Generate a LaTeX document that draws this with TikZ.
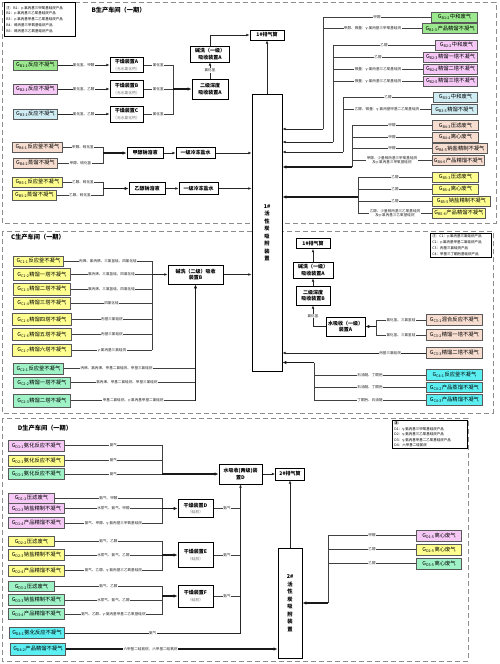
\documentclass[tikz,border=0pt]{standalone}
\usepackage{fontspec}
\setmainfont{Noto Sans CJK SC}
\usetikzlibrary{arrows.meta,calc}
\newcommand\fsrc{\fontsize{5.3}{6}\selectfont}
\newcommand\fdev{\bfseries\fontsize{5}{6.2}\selectfont}
\newcommand\fsm{\mdseries\fontsize{3.8}{4.6}\selectfont\color{black!55}}
\newcommand\flab{\fontsize{3.6}{4.3}\selectfont}
\newcommand\flgd{\fontsize{3.5}{5.8}\selectfont}
\newcommand\fttl{\bfseries\fontsize{6.2}{7.5}\selectfont}
\newcommand\fvert{\bfseries\fontsize{5.3}{7.5}\selectfont}
\definecolor{cgreen}{HTML}{9BE88E}
\definecolor{cpink}{HTML}{F6C8F6}
\definecolor{cblue}{HTML}{CFECF3}
\definecolor{cpeach}{HTML}{F7DDD0}
\definecolor{cyellow}{HTML}{FFFF8F}
\definecolor{cmint}{HTML}{9EF2C6}
\definecolor{ccyan}{HTML}{5CEFF2}
\begin{document}
\begin{tikzpicture}[x=1pt,y=-1pt,
  src/.style={draw=black!65, line width=0.9pt, minimum height=10, inner sep=0.6pt, font=\fsrc},
  dev/.style={draw=black, line width=1pt, fill=white, align=center, inner sep=0.5pt, font=\fdev},
  lab/.style={fill=white, inner sep=0.4pt, font=\flab, text=black!85, align=center},
  ln/.style={draw=black!75, line width=0.75pt},
  arr/.style={draw=black!85, line width=0.8pt, -{Latex[length=3.2pt,width=2.8pt]}},
  tarr/.style={draw=black!90, line width=1.4pt, -{Latex[length=3.8pt,width=3.4pt]}},
  frame/.style={draw=black!45, line width=1pt, dash pattern=on 5pt off 3pt},
  lgd/.style={draw=black, line width=0.9pt, fill=white, align=left, anchor=north west, inner xsep=2pt, inner ysep=1.5pt, font=\flgd},
  ttl/.style={font=\fttl, inner sep=0},
]
\useasboundingbox (0,0) rectangle (500,664);
\fill[white] (0,0) rectangle (500,664);
% frames
\draw[frame] (2,2) rectangle (496,223);
\draw[frame] (2,231) rectangle (493,413);
\draw[frame] (2,418) rectangle (468,661);
% legends and titles
\node[lgd,text width=67,minimum height=34] (lgB) at (4,2) {注：B1：γ-氯丙基三甲氧基硅烷产品\\B2：γ-氯丙基三乙氧基硅烷产品\\B3：γ-氯丙基甲基二乙氧基硅烷产品\\B4：巯丙基三甲氧基硅烷产品\\B5：巯丙基三乙氧基硅烷产品};
\node[lgd,text width=57] (lgC) at (430,233) {注：C1：γ-氯丙基三氯硅烷产品\\C2：γ-氯丙基甲基二氯硅烷产品\\C3：丙基三氯硅烷产品\\C4：甲基三丁酮肟基硅烷产品};
\node[lgd,text width=71,font=\fontsize{3.5}{5.4}\selectfont] (lgD) at (392,420) {\textbf{注：}\\D1：γ-氨丙基三甲氧基硅烷产品\\D2：γ-氨丙基三乙氧基硅烷产品\\D3：γ-氨丙基甲基二乙氧基硅烷产品\\D4：六甲基二硅氮烷};
\node[ttl] (tB) at (118.5,10.5) {B生产车间（一期）};
\node[ttl] (tC) at (38,237) {C生产车间（一期）};
\node[ttl] (tD) at (45,428) {D生产车间（一期）};

% ===== main devices =====
\node[dev,minimum width=30,minimum height=277,font=\fvert] (ac1) at (267,232.5) {1\#\\活\\性\\炭\\吸\\附\\装\\置};
\node[dev,minimum width=34,minimum height=10] (stkB) at (267,35) {1\#排气筒};
\draw[arr] (ac1) -- (stkB);

% ===== B left =====
\node[src,fill=cgreen,anchor=west,minimum width=44] (gB11) at (13,65) {G\textsubscript{B1-1}反应不凝气};
\node[src,fill=cpink,anchor=west,minimum width=44] (gB21) at (13,89) {G\textsubscript{B2-1}反应不凝气};
\node[src,fill=cblue,anchor=west,minimum width=44] (gB31) at (13,114) {G\textsubscript{B3-1}反应不凝气};
\node[dev,minimum width=33,minimum height=15] (dryA) at (126.5,65) {干燥装置A\\{\fsm （无水氯化钙）}};
\node[dev,minimum width=33,minimum height=17] (dryB) at (126.5,89) {干燥装置B\\{\fsm （无水氯化钙）}};
\node[dev,minimum width=33,minimum height=16] (dryC) at (126.5,114) {干燥装置C\\{\fsm （无水氯化钙）}};
\node[dev,minimum width=36,minimum height=20] (absA) at (210,89) {二级深度\\吸收装置A};
\node[dev,minimum width=39,minimum height=16] (alkA) at (210,54) {碱洗（一级）\\吸收装置A};
\coordinate (kBd) at (173,89);
\draw[arr] (gB11) -- node[lab]{氯化氢、甲醇} (dryA);
\draw[arr] (gB21) -- node[lab]{氯化氢、乙醇} (dryB);
\draw[arr] (gB31) -- node[lab]{氯化氢、乙醇} (dryC);
\draw[ln] (dryA) -- node[lab]{氯化氢} (dryA -| kBd) -- (dryC -| kBd) -- node[lab]{氯化氢} (dryC);
\draw[ln] (dryB) -- node[lab]{氯化氢} (kBd);
\draw[tarr] (kBd) -- (absA);
\draw[arr] (absA) -- node[lab]{氯化氢} (alkA);
\draw[arr] (alkA.north) |- (stkB);

\node[src,fill=cpeach,anchor=west,minimum width=50] (gB41) at (12,147) {G\textsubscript{B4-1}反应釜不凝气};
\node[src,fill=cpeach,anchor=west,minimum width=44] (gB42) at (13,163) {G\textsubscript{B4-2}蒸馏不凝气};
\node[dev,minimum width=36,minimum height=11] (naoA) at (145,153) {甲醇钠溶液};
\node[dev,minimum width=39,minimum height=11] (brA) at (195.5,153) {一级冷冻盐水};
\coordinate (kB4) at (103,153);
\draw[ln] (gB41) -- node[lab]{甲醇、硫化氢} (gB41 -| kB4) -- (gB42 -| kB4) -- node[lab]{甲醇、硫化氢} (gB42);
\draw[tarr] (kB4) -- (naoA);
\draw[arr] (naoA) -- (brA);
\draw[arr] (brA) -- (brA -| ac1.west);

\node[src,fill=cyellow,anchor=west,minimum width=50] (gB51) at (12,182) {G\textsubscript{B5-1}反应釜不凝气};
\node[src,fill=cyellow,anchor=west,minimum width=44] (gB52) at (12,195) {G\textsubscript{B5-2}蒸馏不凝气};
\node[dev,minimum width=36,minimum height=12] (naoB) at (147,188.5) {乙醇钠溶液};
\node[dev,minimum width=39,minimum height=12] (brB) at (198.5,188.5) {一级冷冻盐水};
\coordinate (kB5) at (103,188.5);
\draw[ln] (gB51) -- node[lab]{乙醇、硫化氢} (gB51 -| kB5) -- (gB52 -| kB5) -- node[lab]{乙醇、硫化氢} (gB52);
\draw[tarr] (kB5) -- (naoB);
\draw[arr] (naoB) -- (brB);
\draw[arr] (brB) -- (brB -| ac1.west);

% ===== B right =====
\node[src,fill=cgreen,anchor=east,minimum width=46] (gB12) at (478,17) {G\textsubscript{B1-2}中和废气};
\node[src,fill=cgreen,anchor=east,minimum width=55] (gB13) at (478,28.5) {G\textsubscript{B1-3}产品精馏不凝气};
\coordinate (kB1) at (323,129);
\draw[ln] (gB12) -- node[lab]{甲醇} (gB12 -| kB1) -- (kB1);
\draw[ln] (gB13) -- node[lab]{甲醇、微量：γ-氯丙基三甲氧基硅烷} (gB13 -| kB1);
\draw[arr] (kB1) -- (kB1 -| ac1.east);

\node[src,fill=cpink,anchor=east,minimum width=42] (gB22) at (478,45) {G\textsubscript{B2-2}中和废气};
\node[src,fill=cpink,anchor=east,minimum width=54] (gB23) at (478,57) {G\textsubscript{B2-3}精馏一塔不凝气};
\node[src,fill=cpink,anchor=east,minimum width=54] (gB24) at (478,69) {G\textsubscript{B2-4}精馏二塔不凝气};
\node[src,fill=cpink,anchor=east,minimum width=54] (gB25) at (478,81) {G\textsubscript{B2-5}精馏三塔不凝气};
\coordinate (kB2) at (333,142);
\draw[ln] (gB22) -- node[lab]{乙醇} (gB22 -| kB2) -- (kB2);
\draw[ln] (gB23) -- node[lab]{乙醇} (gB23 -| kB2);
\draw[ln] (gB24) -- node[lab]{微量：γ-氯丙基三乙氧基硅烷} (gB24 -| kB2);
\draw[ln] (gB25) -- node[lab]{微量：γ-氯丙基三乙氧基硅烷} (gB25 -| kB2);
\draw[arr] (kB2) -- (kB2 -| ac1.east);

\node[src,fill=cblue,anchor=east,minimum width=44] (gB32) at (478,97) {G\textsubscript{B3-2}中和废气};
\node[src,fill=cblue,anchor=east,minimum width=46] (gB33) at (478,109.5) {G\textsubscript{B3-3}精馏不凝气};
\coordinate (kB3) at (343,152);
\draw[ln] (gB32) -- node[lab]{乙醇} (gB32 -| kB3) -- (kB3);
\draw[ln] (gB33) -- node[lab]{乙醇、微量：γ-氯丙基甲基二乙氧基硅烷} (gB33 -| kB3);
\draw[arr] (kB3) -- (kB3 -| ac1.east);

\node[src,fill=cpeach,anchor=west,minimum width=46] (gB43) at (432,125.5) {G\textsubscript{B4-3}压滤废气};
\node[src,fill=cpeach,anchor=west,minimum width=46] (gB44) at (432,137) {G\textsubscript{B4-4}离心废气};
\node[src,fill=cpeach,anchor=west,minimum width=55] (gB45) at (432,148.5) {G\textsubscript{B4-5}钠盐精制不凝气};
\node[src,fill=cpeach,anchor=west,minimum width=52] (gB46) at (432,160.5) {G\textsubscript{B4-6}产品精馏不凝气};
\coordinate (kB4r) at (352,167);
\draw[ln] (gB43) -- node[lab]{甲醇} (gB43 -| kB4r) -- (kB4r);
\draw[ln] (gB44) -- node[lab]{甲醇} (gB44 -| kB4r);
\draw[ln] (gB45) -- node[lab]{甲醇} (gB45 -| kB4r);
\draw[ln] (gB46) -- node[lab]{甲醇、少量巯丙基三甲氧基硅烷\\及γ-氯丙基三甲氧基硅烷} (gB46 -| kB4r);
\draw[tarr] (kB4r) -- (kB4r -| ac1.east);

\node[src,fill=cyellow,anchor=west,minimum width=46] (gB53) at (432,177) {G\textsubscript{B5-3}压滤废气};
\node[src,fill=cyellow,anchor=west,minimum width=46] (gB54) at (432,189) {G\textsubscript{B5-4}离心废气};
\node[src,fill=cyellow,anchor=west,minimum width=58] (gB55) at (432,201) {G\textsubscript{B5-5}钠盐精制不凝气};
\node[src,fill=cyellow,anchor=west,minimum width=53] (gB56) at (432,213) {G\textsubscript{B5-6}产品精馏不凝气};
\coordinate (kB5r) at (358,197);
\draw[ln] (gB53 -| kB5r) -- (gB56 -| kB5r);
\draw[ln] (gB53) -- node[lab]{乙醇} (gB53 -| kB5r);
\draw[ln] (gB54) -- node[lab]{乙醇} (gB54 -| kB5r);
\draw[ln] (gB55) -- node[lab]{乙醇} (gB55 -| kB5r);
\draw[ln] (gB56) -- node[lab]{乙醇、少量巯丙基三乙氧基硅烷\\及γ-氯丙基三乙氧基硅烷} (gB56 -| kB5r);
\draw[tarr] (kB5r) -- (kB5r -| ac1.east);

% ===== C left =====
\node[src,fill=cyellow,anchor=west,minimum width=50,minimum height=10] (gC11) at (13,261) {G\textsubscript{C1-1}反应釜不凝气};
\node[src,fill=cyellow,anchor=west,minimum width=57,minimum height=12] (gC12) at (13,274.5) {G\textsubscript{C1-2}精馏一塔不凝气};
\node[src,fill=cyellow,anchor=west,minimum width=57,minimum height=12] (gC13) at (13,289) {G\textsubscript{C1-3}精馏二塔不凝气};
\node[src,fill=cyellow,anchor=west,minimum width=57,minimum height=12] (gC14) at (13,303) {G\textsubscript{C1-4}精馏三塔不凝气};
\node[src,fill=cyellow,anchor=west,minimum width=59,minimum height=12] (gC15) at (12,319.5) {G\textsubscript{C1-5}精馏四塔不凝气};
\node[src,fill=cyellow,anchor=west,minimum width=59,minimum height=12] (gC16) at (12,334.5) {G\textsubscript{C1-6}精馏五塔不凝气};
\node[src,fill=cyellow,anchor=west,minimum width=59,minimum height=12] (gC17) at (12,350) {G\textsubscript{C1-7}精馏六塔不凝气};
\node[dev,minimum width=55,minimum height=19] (alkB) at (195.5,274.5) {碱洗（二级）吸收\\装置B};
\coordinate (kC1) at (152,274.5);
\draw[ln] (gC11 -| kC1) -- (gC17 -| kC1);
\draw[ln] (gC11) -- node[lab]{丙烯、氯丙烯、三氯氢硅、四氯化硅} (gC11 -| kC1);
\draw[ln] (gC12) -- node[lab]{氯丙烯、三氯氢硅、四氯化硅} (kC1);
\draw[ln] (gC13) -- node[lab]{氯丙烯、三氯氢硅、四氯化硅} (gC13 -| kC1);
\draw[ln] (gC14) -- node[lab]{四氯化硅} (gC14 -| kC1);
\draw[ln] (gC15) -- node[lab]{丙基三氯硅烷} (gC15 -| kC1);
\draw[ln] (gC16) -- node[lab]{丙基三氯硅烷} (gC16 -| kC1);
\draw[ln] (gC17) -- node[lab]{γ-氯丙基三氯硅烷} (gC17 -| kC1);
\draw[arr] (kC1) -- (alkB);
\draw[arr] (alkB) -- (alkB -| ac1.west);

\node[src,fill=cmint,anchor=west,minimum width=50,minimum height=11] (gC21) at (13,368.5) {G\textsubscript{C2-1}反应釜不凝气};
\node[src,fill=cmint,anchor=west,minimum width=57,minimum height=11] (gC22) at (13,382.5) {G\textsubscript{C2-2}精馏一塔不凝气};
\node[src,fill=cmint,anchor=west,minimum width=57,minimum height=13] (gC23) at (13,400.5) {G\textsubscript{C2-3}精馏二塔不凝气};
\draw[ln] (gC21) -- node[lab,pos=0.4]{丙烯、氯丙烯、甲基二氯硅烷、甲基三氯硅烷} (gC21 -| alkB.south);
\draw[ln] (gC22) -- node[lab,pos=0.45]{氯丙烯、甲基二氯硅烷、甲基三氯硅烷} (gC22 -| alkB.south);
\draw[ln] (gC23) -- node[lab]{甲基二氯硅烷、γ-氯丙基甲基二氯硅烷} (gC23 -| alkB.south);
\draw[tarr] (gC23 -| alkB.south) -- (alkB.south);

% ===== C right =====
\node[dev,minimum width=34,minimum height=10] (stkC) at (313,243.5) {1\#排气筒};
\node[dev,minimum width=40,minimum height=16] (alkC) at (313,270) {碱洗（一级）\\吸收装置A};
\node[dev,minimum width=34,minimum height=19] (absC) at (313,295.5) {二级深度\\吸收装置B};
\node[dev,minimum width=39,minimum height=19] (waterA) at (345.5,326.5) {水吸收（一级）\\装置A};
\draw[arr] (alkC) -- (stkC);
\draw[arr] (absC) -- (alkC);
\draw[arr] (waterA.west) -| node[lab,pos=0.75]{氯化氢} (absC.south);

\node[src,fill=cpeach,anchor=west,minimum width=56,minimum height=11] (gC31) at (426,320) {G\textsubscript{C3-1}混合反应不凝气};
\node[src,fill=cpeach,anchor=west,minimum width=56,minimum height=11] (gC32) at (426,335) {G\textsubscript{C3-2}精馏一塔不凝气};
\node[src,fill=cpeach,anchor=west,minimum width=56,minimum height=11] (gC33) at (426,353) {G\textsubscript{C3-3}精馏二塔不凝气};
\coordinate (kC3) at (376,326.5);
\draw[ln] (gC31) -- node[lab]{氯化氢、三氯氢硅} (gC31 -| kC3) -- (gC32 -| kC3) -- node[lab]{氯化氢、三氯氢硅} (gC32);
\draw[tarr] (kC3) -- (waterA);
\draw[arr] (gC33) -- node[lab,pos=0.25]{丙基三氯硅烷} (gC33 -| ac1.east);

\node[src,fill=ccyan,anchor=west,minimum width=56,minimum height=10.5] (gC41) at (426,375) {G\textsubscript{C4-1}反应釜不凝气};
\node[src,fill=ccyan,anchor=west,minimum width=56,minimum height=10.5] (gC42) at (426,387.5) {G\textsubscript{C4-2}产品蒸馏不凝气};
\node[src,fill=ccyan,anchor=west,minimum width=56,minimum height=10.5] (gC43) at (426,400) {G\textsubscript{C4-3}产品精馏不凝气};
\coordinate (kC4) at (314,362.5);
\draw[ln] (kC4) -- (gC43 -| kC4);
\draw[ln] (gC41) -- node[lab]{石油醚、丁酮肟} (gC41 -| kC4);
\draw[ln] (gC42) -- node[lab]{石油醚、丁酮肟} (gC42 -| kC4);
\draw[ln] (gC43) -- node[lab]{丁酮肟、石油醚} (gC43 -| kC4);
\draw[tarr] (kC4) -- (kC4 -| ac1.east);

% ===== D =====
\node[src,fill=cpink,anchor=west,minimum width=56,minimum height=11] (gD11) at (8,445.5) {G\textsubscript{D1-1}氨化反应不凝气};
\node[src,fill=cyellow,anchor=west,minimum width=56,minimum height=11] (gD21) at (8,460.5) {G\textsubscript{D2-1}氨化反应不凝气};
\node[src,fill=cmint,anchor=west,minimum width=56,minimum height=11] (gD31) at (8,474) {G\textsubscript{D3-1}氨化反应不凝气};
\node[dev,minimum width=43,minimum height=20] (waterD) at (240.5,474) {水吸收(两级)装\\置D};
\node[dev,minimum width=29,minimum height=12] (stkD) at (290,474) {2\#排气筒};
\node[dev,minimum width=24,minimum height=110,font=\fvert] (ac2) at (290,603) {2\#\\活\\性\\炭\\吸\\附\\装\\置};
\coordinate (kD0) at (162,474);
\draw[ln] (gD11) -- node[lab]{氨气} (gD11 -| kD0) -- (kD0);
\draw[ln] (gD21) -- node[lab]{氨气} (gD21 -| kD0);
\draw[ln] (gD31) -- node[lab]{氨气} (kD0);
\draw[tarr] (kD0) -- (waterD);
\draw[arr] (waterD) -- (stkD);
\draw[arr] (ac2) -- (stkD);

\node[src,fill=cpink,anchor=west,minimum width=46,minimum height=10] (gD12) at (8,498) {G\textsubscript{D1-2}压滤废气};
\node[src,fill=cpink,anchor=west,minimum width=56,minimum height=10] (gD13) at (8,508.5) {G\textsubscript{D1-3}钠盐精制不凝气};
\node[src,fill=cpink,anchor=west,minimum width=56,minimum height=11] (gD14) at (8,523) {G\textsubscript{D1-4}产品精馏不凝气};
\node[dev,minimum width=35,minimum height=18] (dryD) at (195.5,508.5) {干燥装置D\\{\fsm （硅胶）}};
\coordinate (kD1) at (162,508.5);
\draw[ln] (gD12) -- node[lab]{氨气、甲醇} (gD12 -| kD1) -- (gD14 -| kD1) -- node[lab]{氨气、甲醇、γ-氨丙基三甲氧基硅烷} (gD14);
\draw[ln] (gD13) -- node[lab]{水蒸气、氨气、甲醇} (kD1);
\draw[tarr] (kD1) -- (dryD);
\draw[ln] (dryD) -- node[lab]{氨气} (dryD -| waterD.south);

\node[src,fill=cyellow,anchor=west,minimum width=46,minimum height=10] (gD22) at (8,541.5) {G\textsubscript{D2-2}压滤废气};
\node[src,fill=cyellow,anchor=west,minimum width=56,minimum height=11] (gD23) at (8,555) {G\textsubscript{D2-3}钠盐精制不凝气};
\node[src,fill=cyellow,anchor=west,minimum width=56,minimum height=11] (gD24) at (8,570.5) {G\textsubscript{D2-4}产品精馏不凝气};
\node[dev,minimum width=35,minimum height=25] (dryE) at (195.5,555) {干燥装置E\\{\fsm （硅胶）}};
\coordinate (kD2) at (162,555);
\draw[ln] (gD22) -- node[lab]{氨气、乙醇} (gD22 -| kD2) -- (gD24 -| kD2) -- node[lab]{氨气、乙醇、γ-氨丙基三乙氧基硅烷} (gD24);
\draw[ln] (gD23) -- node[lab]{水蒸气、氨气、乙醇} (kD2);
\draw[tarr] (kD2) -- (dryE);
\draw[ln] (dryE) -- node[lab]{氨气} (dryE -| waterD.south);

\node[src,fill=cmint,anchor=west,minimum width=46,minimum height=10] (gD32) at (8,586.5) {G\textsubscript{D3-2}压滤废气};
\node[src,fill=cmint,anchor=west,minimum width=56,minimum height=11] (gD33) at (8,600) {G\textsubscript{D3-3}钠盐精制不凝气};
\node[src,fill=cmint,anchor=west,minimum width=56,minimum height=11] (gD34) at (8,614) {G\textsubscript{D3-4}产品精馏不凝气};
\node[dev,minimum width=35,minimum height=22] (dryF) at (195.5,596) {干燥装置F\\{\fsm （硅胶）}};
\coordinate (kD3) at (162,596);
\draw[ln] (gD32) -- node[lab]{氨气、乙醇} (gD32 -| kD3) -- (gD34 -| kD3) -- node[lab]{氨气、乙醇、γ-氨丙基甲基二乙氧基硅烷} (gD34);
\draw[ln] (gD33) -- node[lab]{水蒸气、氨气、乙醇} (gD33 -| kD3);
\draw[tarr] (kD3) -- (dryF);
\draw[ln] (dryF) -- node[lab]{氨气} (dryF -| waterD.south);

\node[src,fill=ccyan,anchor=west,minimum width=55,minimum height=11] (gD41) at (9,633) {G\textsubscript{D4-1}氨化反应不凝气};
\node[src,fill=ccyan,anchor=west,minimum width=55,minimum height=12] (gD42) at (10,649) {G\textsubscript{D4-2}产品精馏不凝气};
\draw[arr,line width=1pt] (gD41) -- node[lab]{氨气} (gD41 -| waterD.south) -- (waterD.south);
\draw[tarr] (gD42) -- node[lab,pos=0.4]{六甲基二硅氮烷、六甲基二硅氧烷} (gD42 -| ac2.west);

\node[src,fill=cpink,anchor=east,minimum width=45,minimum height=11] (gD15) at (462,535.5) {G\textsubscript{D1-5}离心废气};
\node[src,fill=cyellow,anchor=east,minimum width=45,minimum height=11] (gD25) at (462,549.5) {G\textsubscript{D2-5}离心废气};
\node[src,fill=cmint,anchor=east,minimum width=45,minimum height=11] (gD35) at (462,563.5) {G\textsubscript{D3-5}离心废气};
\coordinate (kD5) at (328,603);
\draw[ln] (gD15) -- node[lab]{甲醇} (gD15 -| kD5) -- (kD5);
\draw[ln] (gD25) -- node[lab]{乙醇} (gD25 -| kD5);
\draw[ln] (gD35) -- node[lab]{乙醇} (gD35 -| kD5);
\draw[tarr] (kD5) -- (kD5 -| ac2.east);
\end{tikzpicture}
\end{document}
